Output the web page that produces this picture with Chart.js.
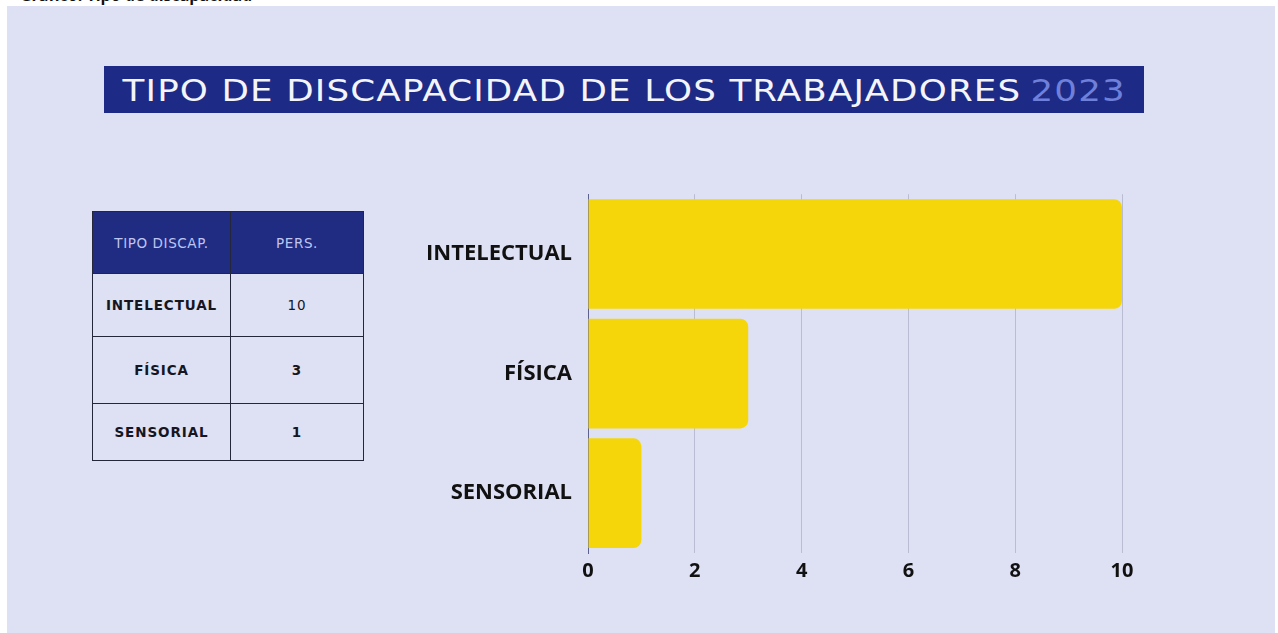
<!DOCTYPE html>
<html>
<head>
<meta charset="utf-8">
<script src="https://cdn.jsdelivr.net/npm/chart.js@4.4.1/dist/chart.umd.min.js"></script>
<style>
  html, body { margin: 0; padding: 0; background: #fff; }
  body { width: 1278px; height: 633px; position: relative; overflow: hidden; font-family: "DejaVu Sans", sans-serif; }
  #cut { position: absolute; left: 20px; top: -16px; font: bold 16px "Open Sans", sans-serif; color: #111; }
  #panel { position: absolute; left: 7px; top: 6px; width: 1268px; height: 640px; background: #dee0f4; }
  #title { position: absolute; left: 104px; top: 66px; width: 1040px; height: 47px; background: #1d2b86;
    color: #f4f4fb; font-size: 31px; display: flex; align-items: center; justify-content: center; }
  #title div { transform: scaleX(1.15); letter-spacing: 1px; white-space: nowrap; }
  #title span { color: #6f80db; margin-left: 8px; }
  table { position: absolute; left: 92px; top: 211px; border-collapse: collapse; }
  td, th { border: 1.5px solid #24263a; text-align: center; padding: 0; }
  th { background: #1f2c82; color: #bfc5f2; font-weight: normal; font-size: 13.5px; height: 61px; letter-spacing: 0.6px; }
  td { font-weight: bold; font-size: 13.5px; color: #15161f; letter-spacing: 0.9px; }
  #wrap { position: absolute; left: 420px; top: 165px; width: 740px; height: 418px; }
</style>
</head>
<body>
<div id="cut">Gráfico: Tipo de discapacidad</div>
<div id="panel"></div>
<div id="title"><div>TIPO DE DISCAPACIDAD DE LOS TRABAJADORES<span>2023</span></div></div>
<table id="tbl"></table>
<div id="wrap"><canvas id="discChart"></canvas></div>
<script>
var categories = ["INTELECTUAL", "FÍSICA", "SENSORIAL"];
var personas = [10, 3, 1];
var tableHeaders = ["TIPO DISCAP.", "PERS."];
var xTicks = [0, 2, 4, 6, 8, 10];

// tabla de la izquierda
var tbl = document.getElementById('tbl');
var html = '<tr><th style="width:137px">' + tableHeaders[0] + '</th><th style="width:132px">' + tableHeaders[1] + '</th></tr>';
var rowH = [63, 67, 57];
for (var i = 0; i < categories.length; i++) {
    html += '<tr style="height:' + rowH[i] + 'px"><td>' + categories[i] + '</td><td style="font-weight:' + (i == 0 ? 'normal' : 'bold') + '">' + personas[i] + '</td></tr>';
}
tbl.innerHTML = html;

var ctx = document.getElementById('discChart').getContext('2d');

var chart = new Chart(ctx, {
    type: 'bar',
    data: {
        labels: categories,
        datasets: [{
            data: personas,
            backgroundColor: '#f5d60b',
            borderRadius: 8,
            borderSkipped: 'start',
            barPercentage: 0.917,
            categoryPercentage: 1.0
        }]
    },
    options: {
        indexAxis: 'y',
        responsive: true,
        maintainAspectRatio: false,
        animation: false,
        layout: { padding: { top: 0, right: 38, bottom: 0, left: 0 } },
        plugins: { legend: { display: false }, tooltip: { enabled: false } },
        scales: {
            x: {
                min: 0,
                max: 10,
                afterBuildTicks: function (axis) {
                    axis.ticks = xTicks.map(function (v) { return { value: v }; });
                },
                afterFit: function (axis) { axis.height = 30; },
                grid: {
                    drawTicks: false,
                    color: function (c) { return c.tick && c.tick.value === 0 ? '#5c6190' : '#b9bcd2'; },
                    lineWidth: 1
                },
                border: { display: false },
                ticks: {
                    padding: 6,
                    color: '#111',
                    font: { family: 'Open Sans', weight: 'bold', size: 20 }
                }
            },
            y: {
                afterFit: function (axis) { axis.width = 168; },
                grid: { display: false, drawTicks: false },
                border: { display: true, color: '#5c6190', width: 1 },
                ticks: {
                    padding: 16,
                    color: '#111',
                    font: { family: 'Open Sans', weight: 'bold', size: 22 }
                }
            }
        }
    }
});
</script>
</body>
</html>
